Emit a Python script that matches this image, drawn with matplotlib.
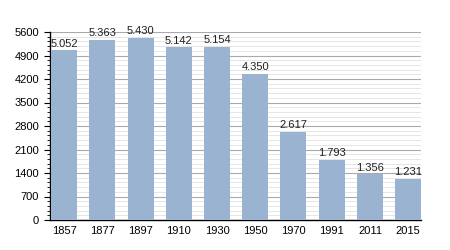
import matplotlib
matplotlib.use("Agg")
import matplotlib.pyplot as plt
from matplotlib.ticker import MultipleLocator

years = ["1857", "1877", "1897", "1910", "1930", "1950", "1970", "1991", "2011", "2015"]
population = [5052, 5363, 5430, 5142, 5154, 4350, 2617, 1793, 1356, 1231]
labels = ["5.052", "5.363", "5.430", "5.142", "5.154", "4.350", "2.617", "1.793", "1.356", "1.231"]

plt.rcParams['font.family'] = ['Liberation Sans', 'DejaVu Sans']

fig = plt.figure(figsize=(4.5, 2.5), dpi=100)
ax = fig.add_axes([0.11, 0.12, 0.826, 0.752])

x = range(len(years))
bars = ax.bar(x, population, width=0.68, color='#9ab3d0', zorder=3)
for xi, v, lab in zip(x, population, labels):
    ax.text(xi, v + 50, lab, ha='center', va='bottom', fontsize=8, color='#222222')

ax.set_ylim(0, 5600)
ax.set_xlim(-0.38, 9.34)
ax.yaxis.set_major_locator(MultipleLocator(700))
ax.yaxis.set_minor_locator(MultipleLocator(140))
ax.set_xticks(list(x))
ax.set_xticklabels(years)

ax.grid(axis='y', which='major', color='#aaaaaa', linewidth=0.8, zorder=0)
ax.grid(axis='y', which='minor', color='#e2e2e2', linewidth=0.6, zorder=0)

for s in ['top', 'right']:
    ax.spines[s].set_visible(False)
ax.spines['left'].set_linewidth(1.0)
ax.spines['bottom'].set_linewidth(1.0)
ax.tick_params(axis='both', labelsize=8, colors='#000000', length=4, width=0.8)
ax.tick_params(axis='y', which='minor', length=2, width=0.6)
ax.tick_params(axis='x', length=0, pad=4)

fig.savefig("out.png", dpi=100)
